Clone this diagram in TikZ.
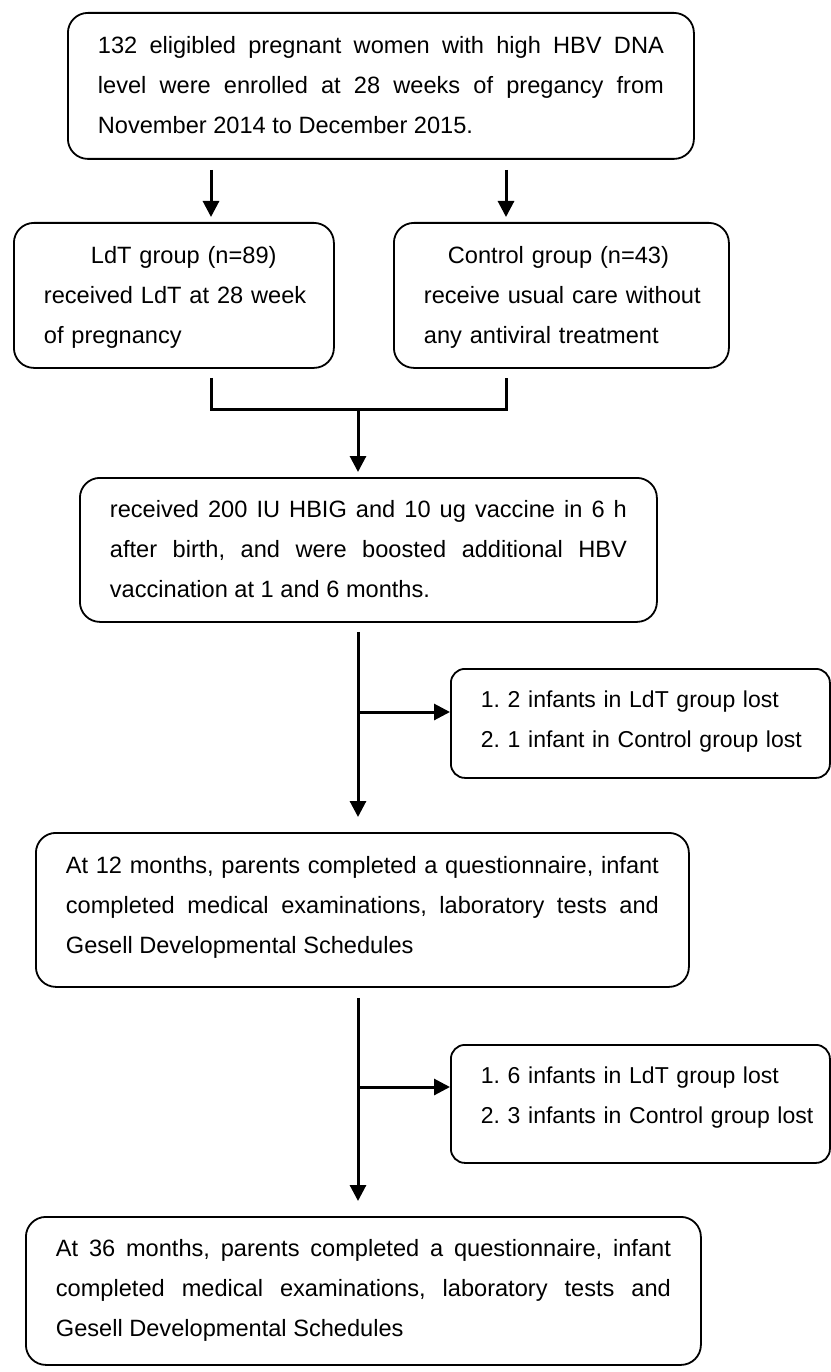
\documentclass[tikz,border=0pt]{standalone}
\usepackage{fontspec}
\setmainfont{Liberation Sans}
\usetikzlibrary{arrows.meta}
\tolerance=10000
\hbadness=10000
\hfuzz=50pt
\hyphenpenalty=10000
\newcommand\myfirst[1]{\rule{0pt}{#1pt}}
\newcommand\mylast[1]{\rule[-#1pt]{0pt}{#1pt}}
\newcommand\ind{\hspace*{20pt}}
\tikzset{
  box/.style={draw, line width=1.8pt, rounded corners=20pt, inner ysep=0pt,
    inner xsep=30pt, anchor=north west,
    font=\fontsize{23.6}{40}\selectfont\frenchspacing},
  jbox/.style={box, align=justify},
  lbox/.style={box, align=left, inner xsep=10pt},
  sbox/.style={box, align=left, rounded corners=14pt, inner xsep=10pt, text width=359pt,
    font=\fontsize{23}{40}\selectfont\frenchspacing},
  conn/.style={line width=3pt},
  arr/.style={conn, -{Triangle[length=16pt,width=16pt]}},
}
\begin{document}
\begin{tikzpicture}[x=1pt,y=-1pt]
\path[use as bounding box, fill=white] (0,0) rectangle (830,1372);

\node[jbox, text width=566pt] (top) at (67,12)
  {\noindent\myfirst{41}132 eligibled pregnant women with high HBV DNA\linebreak
   level were enrolled at 28 weeks of pregancy from\linebreak
   November 2014 to December 2015.\mylast{25}};

\node[lbox, text width=300pt] (ldt) at (13,222)
  {\myfirst{41}\ind\hspace*{47pt}\mbox{LdT group (n=89)}\\
   \ind\mbox{received LdT at 28 week}\\
   \ind\mbox{of pregnancy}\mylast{24}};

\node[lbox, text width=315pt] (ctrl) at (393,222)
  {\myfirst{41}\ind\hspace*{24pt}\mbox{Control group (n=43)}\\
   \ind\mbox{receive usual care without}\\
   \ind\mbox{any antiviral treatment}\mylast{24}};

\node[jbox, text width=517pt] (rec) at (79,477)
  {\noindent\myfirst{40}received 200 IU HBIG and 10 ug vaccine in 6 h\linebreak
   after birth, and were boosted additional HBV\linebreak
   vaccination at 1 and 6 months.\mylast{24}};

\node[sbox] (lost1) at (450,668)
  {\myfirst{39}\ind\mbox{1. 2 infants in LdT group lost}\\
   \ind\mbox{2. 1 infant in Control group lost}\mylast{30}};

\node[jbox, text width=593pt] (twelve) at (35,832)
  {\noindent\myfirst{41}At 12 months, parents completed a questionnaire, infant\linebreak
   completed medical examinations, laboratory tests and\linebreak
   Gesell Developmental Schedules\mylast{33}};

\node[sbox] (lost2) at (450,1044)
  {\myfirst{39}\ind\mbox{1. 6 infants in LdT group lost}\\
   \ind\mbox{2. 3 infants in Control group lost}\mylast{39}};

\node[jbox, text width=615pt] (thirtysix) at (25,1216)
  {\noindent\myfirst{40}At 36 months, parents completed a questionnaire, infant\linebreak
   completed medical examinations, laboratory tests and\linebreak
   Gesell Developmental Schedules\mylast{28}};

\coordinate (xa) at (211,0);
\coordinate (xb) at (506,0);
\coordinate (xm) at (358,0);
\coordinate (jn) at (358,409);
\coordinate (b1) at (358,712);
\coordinate (b2) at (358,1087);

\draw[arr, shorten <=10pt, shorten >=5pt] (top.south -| xa) -- (ldt.north -| xa);
\draw[arr, shorten <=10pt, shorten >=5pt] (top.south -| xb) -- (ctrl.north -| xb);
\draw[conn, shorten <=9pt, shorten >=9pt] (ldt.south -| xa) -- (jn -| xa) -- (jn -| xb) -- (ctrl.south -| xb);
\draw[arr, shorten >=5pt] (jn) -- (rec.north -| jn);
\draw[arr, shorten <=9pt, shorten >=15pt] (rec.south -| xm) -- (twelve.north -| xm);
\draw[arr] (b1) -- (lost1.west |- b1);
\draw[arr, shorten <=10pt, shorten >=15pt] (twelve.south -| xm) -- (thirtysix.north -| xm);
\draw[arr] (b2) -- (lost2.west |- b2);
\end{tikzpicture}
\end{document}
